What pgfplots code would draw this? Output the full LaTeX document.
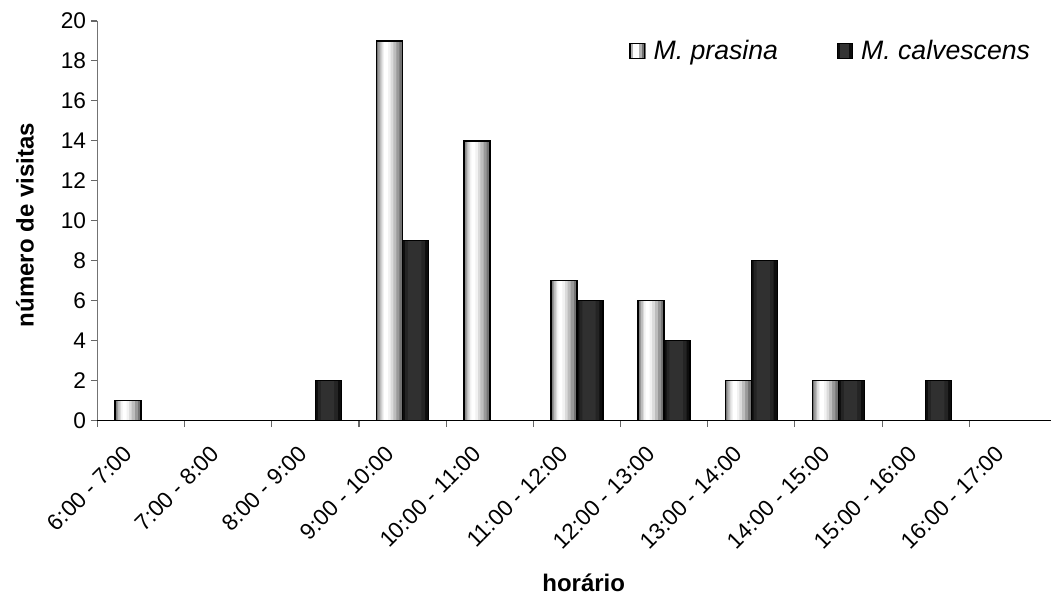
\documentclass[border=0pt]{standalone}
\usepackage{pgfplots}
\usepackage{pgfplotstable}
\pgfplotsset{compat=1.18}
\usepackage{fontspec}
\setmainfont{Liberation Sans}

% visits per hour, zero counts left out
\pgfplotstableread{
x y
0 1
3 19
4 14
5 7
6 6
7 2
8 2
}\prasina
\pgfplotstableread{
x y
2 2
3 9
5 6
6 4
7 8
8 2
9 2
}\calvescens

% one shading strip of a bar: table, width, shift, colour
\newcommand{\strip}[4]{%
  \addplot[ybar, forget plot, draw=none, fill=#4, bar width=#2, bar shift=#3] table {#1};}

\begin{document}
\begin{tikzpicture}
\begin{axis}[
  name=ax,
  scale only axis,
  width=719.25pt, height=299.6pt,
  xmin=-0.5, xmax=10.5,
  ymin=0, ymax=20,
  axis x line*=bottom, axis y line*=left,
  x axis line style={black, line width=0.8pt},
  y axis line style={black!55, line width=0.8pt},
  tick style={black!60, line width=0.8pt},
  tick align=outside, major tick length=5pt,
  xtick={-0.5,0.5,...,10.5},
  x tick label as interval,
  xticklabels={6:00 - 7:00, 7:00 - 8:00, 8:00 - 9:00, 9:00 - 10:00, 10:00 - 11:00, 11:00 - 12:00, 12:00 - 13:00, 13:00 - 14:00, 14:00 - 15:00, 15:00 - 16:00, 16:00 - 17:00},
  xticklabel style={xshift=-14pt, yshift=-8pt, rotate=45, anchor=north east, font=\fontsize{17}{20}\selectfont},
  ytick={0,2,...,20},
  yticklabel style={font=\fontsize{17}{20}\selectfont},
  /pgf/number format/assume math mode=true,
  xlabel={horário},
  ylabel={número de visitas},
  xlabel style={at={(axis description cs:0.507,-0.407)}, anchor=center, font=\bfseries\fontsize{18}{21}\selectfont},
  ylabel style={at={(axis description cs:-0.0756,0.489)}, anchor=center, font=\bfseries\fontsize{18}{21}\selectfont},
  legend columns=2,
  legend style={at={(axis description cs:0.55,0.925)}, anchor=west, draw=none, fill=none,
    font=\itshape\fontsize{20}{23}\selectfont,
    /tikz/every odd column/.append style={column sep=4pt},
    /tikz/every even column/.append style={column sep=42pt}},
]
% M. prasina: light bars, white highlight left of centre
\strip{\prasina}{19.5pt}{-9.75pt}{black!55}
\strip{\prasina}{16pt}{-10.35pt}{black!40}
\strip{\prasina}{12.5pt}{-10.95pt}{black!26}
\strip{\prasina}{9pt}{-11.5pt}{black!14}
\strip{\prasina}{6pt}{-12pt}{black!5}
\strip{\prasina}{3pt}{-12.4pt}{white}
\addplot[ybar, bar width=19.5pt, bar shift=-9.75pt, draw=black, line width=1.1pt, fill=none,
  legend image code/.code={
    \fill[black!55] (0pt,-5.6pt) rectangle (11.2pt,5.6pt);
    \fill[black!30] (1.6pt,-5.6pt) rectangle (8.4pt,5.6pt);
    \fill[white] (3pt,-5.6pt) rectangle (6pt,5.6pt);
    \draw[black, line width=0.9pt] (0pt,-5.6pt) rectangle (11.2pt,5.6pt);}]
  table {\prasina};
\addlegendentry{M. prasina}
% M. calvescens: dark bars
\strip{\calvescens}{19.5pt}{9.75pt}{black!95}
\strip{\calvescens}{15pt}{9.3pt}{black!86}
\strip{\calvescens}{10pt}{9pt}{black!81}
\addplot[ybar, bar width=19.5pt, bar shift=9.75pt, draw=black, line width=1.1pt, fill=none,
  legend image code/.code={
    \fill[black!95] (0pt,-5.6pt) rectangle (11.2pt,5.6pt);
    \fill[black!80] (2.5pt,-5.6pt) rectangle (8pt,5.6pt);
    \draw[black, line width=0.9pt] (0pt,-5.6pt) rectangle (11.2pt,5.6pt);}]
  table {\calvescens};
\addlegendentry{M. calvescens}
\end{axis}
\pgfresetboundingbox
\path (ax.south west) ++(-73.1pt,-132.4pt) rectangle ++(788.25pt,447.75pt);
\end{tikzpicture}
\end{document}
